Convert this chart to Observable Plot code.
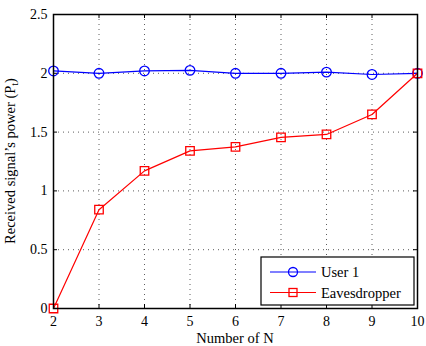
<!DOCTYPE html>
<html><head><meta charset="utf-8">
<script src="https://cdn.jsdelivr.net/npm/d3@7"></script>
<script src="https://cdn.jsdelivr.net/npm/@observablehq/plot@0.6"></script>
<style>
body{margin:0;background:#fff;}
#wrap{width:426px;height:346px;}
#wrap svg text, #wrap svg tspan{font-family:"Liberation Serif","Times New Roman",serif !important;}
</style></head><body><div id="wrap"></div>
<script>
const nValues = [2, 3, 4, 5, 6, 7, 8, 9, 10];
const user1 = [2.02, 2.0, 2.02, 2.025, 2.0, 2.0, 2.01, 1.99, 2.0];
const eaves = [0, 0.84, 1.17, 1.34, 1.375, 1.455, 1.48, 1.65, 2.0];
const xTicks = [2, 3, 4, 5, 6, 7, 8, 9, 10];
const yTicks = [0, 0.5, 1, 1.5, 2, 2.5];
const seriesNames = ["User 1", "Eavesdropper"];
const seriesColors = ["#0000ff", "#ff0000"];
const xLabel = "Number of N";

const W = 426, H = 346, mL = 53, mR = 9, mT = 14, mB = 38;
const pw = W - mL - mR, ph = H - mT - mB;
const font = "Liberation Serif, serif";

const d1 = nValues.map((n, i) => ({n, v: user1[i]}));
const d2 = nValues.map((n, i) => ({n, v: eaves[i]}));
const gridX = xTicks.slice(1, -1), gridY = yTicks.slice(1, -1);

const chart = Plot.plot({
  width: W, height: H,
  marginLeft: mL, marginRight: mR, marginTop: mT, marginBottom: mB,
  style: {background: "#fff", color: "#000"},
  x: {domain: [2, 10]},
  y: {domain: [0, 2.5]},
  marks: [
    Plot.ruleX(gridX, {x: d => d, stroke: "#333", strokeWidth: 0.8, strokeDasharray: "1,4"}),
    Plot.ruleY(gridY, {y: d => d, stroke: "#333", strokeWidth: 0.8, strokeDasharray: "1,4"}),
    // inward ticks
    Plot.ruleX(xTicks, {x: d => d, insetTop: ph - 4, stroke: "#000"}),
    Plot.ruleX(xTicks, {x: d => d, insetBottom: ph - 4, stroke: "#000"}),
    Plot.ruleY(yTicks, {y: d => d, insetRight: pw - 4, stroke: "#000"}),
    Plot.ruleY(yTicks, {y: d => d, insetLeft: pw - 4, stroke: "#000"}),
    Plot.axisX(xTicks, {tickSize: 0, tickPadding: 8, fontSize: 14, label: null}),
    Plot.axisY(yTicks, {tickSize: 0, tickPadding: 6, fontSize: 14, label: null, tickFormat: d => String(d)}),
    Plot.line(d1, {x: "n", y: "v", stroke: seriesColors[0], strokeWidth: 1.2}),
    Plot.dot(d1, {x: "n", y: "v", r: 4.8, stroke: seriesColors[0], strokeWidth: 1.3, fill: "none"}),
    Plot.line(d2, {x: "n", y: "v", stroke: seriesColors[1], strokeWidth: 1.2}),
    Plot.dot(d2, {x: "n", y: "v", symbol: "square", r: 4.8, stroke: seriesColors[1], strokeWidth: 1.3, fill: "none"}),
    Plot.frame({stroke: "#000", strokeWidth: 1.5})
  ]
});
document.getElementById("wrap").appendChild(chart);

const svg = d3.select(chart);
// x label
svg.append("text").attr("x", mL + pw / 2).attr("y", H - 3)
  .attr("text-anchor", "middle").attr("font-family", font).attr("font-size", 14.5).attr("fill", "#000")
  .text(xLabel);
// y label with subscript
const yl = svg.append("text").attr("transform", `translate(15,${mT + ph / 2}) rotate(-90)`)
  .attr("text-anchor", "middle").attr("font-family", font).attr("font-size", 14.5).attr("fill", "#000");
yl.append("tspan").text("Received signal’s power (P");
yl.append("tspan").attr("font-size", 10).attr("dy", 3).text("t");
yl.append("tspan").attr("dy", -3).text(")");

// legend
const lg = svg.append("g").attr("transform", "translate(261,257)");
lg.append("rect").attr("width", 153).attr("height", 48).attr("fill", "#fff").attr("stroke", "#000").attr("stroke-width", 1.2);
seriesNames.forEach((name, i) => {
  const y = 15 + i * 20.5;
  lg.append("line").attr("x1", 9).attr("x2", 55).attr("y1", y).attr("y2", y).attr("stroke", seriesColors[i]).attr("stroke-width", 1.2);
  if (i === 0) lg.append("circle").attr("cx", 32).attr("cy", y).attr("r", 4.5).attr("fill", "none").attr("stroke", seriesColors[i]).attr("stroke-width", 1.3);
  else lg.append("rect").attr("x", 28).attr("y", y - 4).attr("width", 8).attr("height", 8).attr("fill", "none").attr("stroke", seriesColors[i]).attr("stroke-width", 1.3);
  lg.append("text").attr("x", 60).attr("y", y + 5).attr("text-anchor", "start").attr("font-family", font).attr("font-size", 14.5).attr("fill", "#000").text(name);
});
</script></body></html>
